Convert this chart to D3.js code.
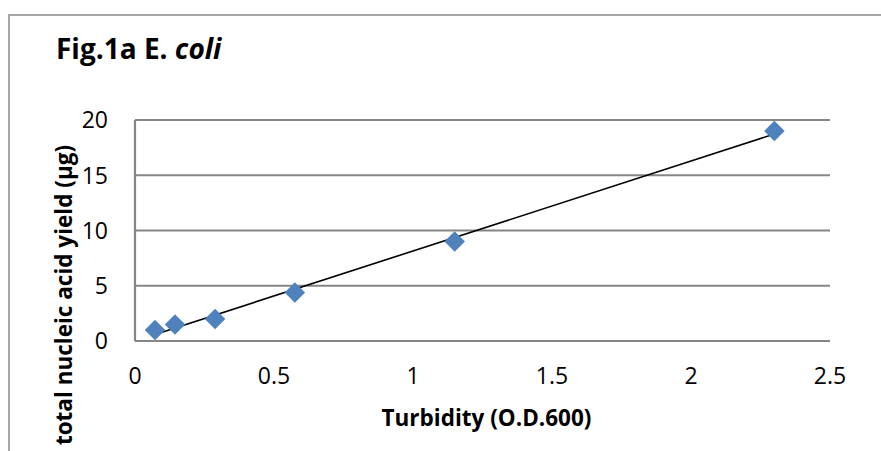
<!doctype html>
<html lang="en">
<head>
<meta charset="utf-8">
<title>Fig.1a E. coli</title>
<style>
  html, body { margin: 0; padding: 0; background: #fff; overflow: hidden; }
  svg { display: block; }
  text { font-family: "Open Sans", sans-serif; fill: #000; }
</style>
</head>
<body>
<svg id="chart" width="881" height="451"></svg>
<script src="https://cdn.jsdelivr.net/npm/d3@7"></script>
<script>
// data
const turbidity = [0.072, 0.144, 0.288, 0.575, 1.15, 2.3];
const yieldUg = [1.0, 1.5, 2.0, 4.4, 9.0, 19.0];
const xTicks = [0, 0.5, 1, 1.5, 2, 2.5];
const yTicks = [0, 5, 10, 15, 20];

const svg = d3.select("#chart");
const plotL = 135, plotR = 830, plotT = 120, plotB = 341;

const x = d3.scaleLinear().domain([0, 2.5]).range([plotL, plotR]);
const y = d3.scaleLinear().domain([0, 20]).range([plotB, plotT]);

// outer frame (only top and left edges visible)
svg.append("path")
    .attr("d", `M9,451 V15 H881`)
    .attr("fill", "none")
    .attr("stroke", "#a6a6a6")
    .attr("stroke-width", 2);

// title
const title = svg.append("text")
    .attr("x", 56).attr("y", 59)
    .style("font-size", "28px").style("font-weight", "bold");
title.append("tspan").text("Fig.1a E. ");
title.append("tspan").style("font-style", "italic").text("coli");

// gridlines
svg.append("g").selectAll("line")
    .data(yTicks)
    .join("line")
    .attr("x1", plotL).attr("x2", plotR)
    .attr("y1", d => y(d)).attr("y2", d => y(d))
    .attr("stroke", "#868686")
    .attr("stroke-width", 2.2);

// y axis line
svg.append("line")
    .attr("x1", plotL).attr("x2", plotL)
    .attr("y1", plotT).attr("y2", plotB)
    .attr("stroke", "#868686")
    .attr("stroke-width", 2.2);

// tick labels
svg.append("g").selectAll("text")
    .data(yTicks)
    .join("text")
    .attr("x", 108)
    .attr("y", d => y(d))
    .attr("dy", "0.36em")
    .attr("text-anchor", "end")
    .style("font-size", "23px")
    .text(d => d);

svg.append("g").selectAll("text")
    .data(xTicks)
    .join("text")
    .attr("x", d => x(d))
    .attr("y", 384)
    .attr("text-anchor", "middle")
    .style("font-size", "23px")
    .text(d => d);

// axis titles
svg.append("text")
    .attr("x", (plotL + plotR) / 2 + 4)
    .attr("y", 426)
    .attr("text-anchor", "middle")
    .style("font-size", "22.5px").style("font-weight", "bold")
    .text("Turbidity (O.D.600)");

svg.append("text")
    .attr("transform", "translate(72,295) rotate(-90)")
    .attr("text-anchor", "middle")
    .style("font-size", "22.5px").style("font-weight", "bold")
    .text("total nucleic acid yield (µg)");

// linear trend line (least squares)
const pts = turbidity.map((t, i) => [t, yieldUg[i]]);
const mx = d3.mean(turbidity), my = d3.mean(yieldUg);
const slope = d3.sum(pts, p => (p[0] - mx) * (p[1] - my)) / d3.sum(pts, p => (p[0] - mx) ** 2);
const icpt = my - slope * mx;
const xr = d3.extent(turbidity);

svg.append("path")
    .datum(xr.map(t => [t, icpt + slope * t]))
    .attr("d", d3.line().x(d => x(d[0])).y(d => y(d[1])))
    .attr("fill", "none")
    .attr("stroke", "#000")
    .attr("stroke-width", 1.6);

// diamond markers
svg.append("g").selectAll("path")
    .data(pts)
    .join("path")
    .attr("d", d3.symbol(d3.symbolSquare, 210))
    .attr("transform", d => `translate(${x(d[0])},${y(d[1])}) rotate(45)`)
    .attr("fill", "#4f81bd");
</script>
</body>
</html>
